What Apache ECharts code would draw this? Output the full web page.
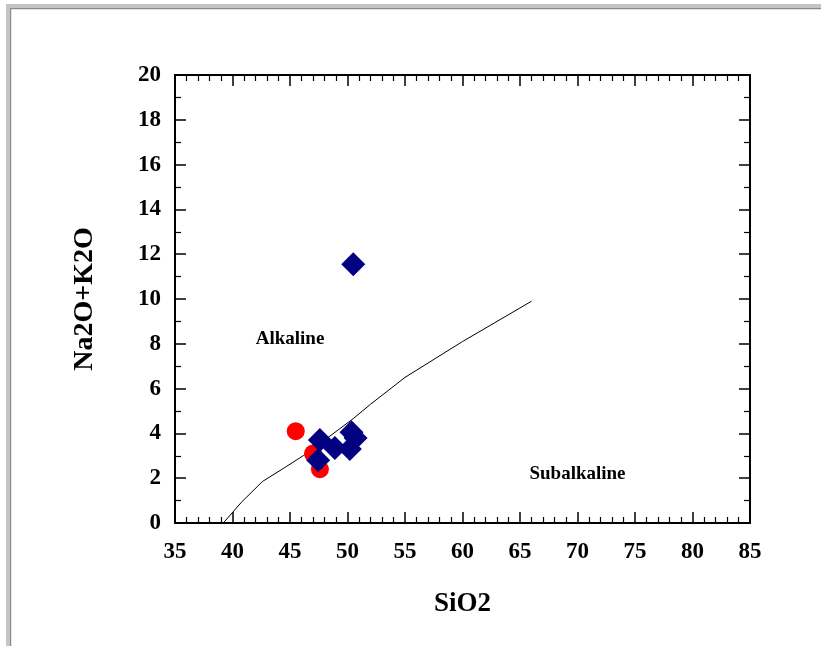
<!DOCTYPE html>
<html>
<head>
<meta charset="utf-8">
<script src="https://cdn.jsdelivr.net/npm/echarts@6/dist/echarts.min.js"></script>
<style>
html,body{margin:0;padding:0;background:#fff;}
#chart{width:821px;height:646px;}
</style>
</head>
<body>
<div id="chart"></div>
<script>
// Boundary curve (alkaline / subalkaline divider)
const boundarySiO2 = [39.2, 40.8, 42.6, 44.4, 46.2, 48.0, 50.5, 52.0, 55.0, 60.0, 66.0];
const boundaryAlk  = [0.0, 0.94, 1.85, 2.43, 3.02, 3.7, 4.66, 5.3, 6.5, 8.1, 9.9];

// Red circles
const redSiO2 = [45.5, 47.0, 47.6];
const redAlk  = [4.1, 3.1, 2.4];

// Blue diamonds
const blueSiO2 = [50.5, 47.6, 47.45, 48.9, 50.35, 50.7, 50.2];
const blueAlk  = [11.55, 3.7, 2.8, 3.35, 4.05, 3.8, 3.3];

// Field labels
const fieldNames = ['Alkaline', 'Subalkaline'];
const fieldSiO2  = [45.0, 70.0];
const fieldAlk   = [8.2, 2.2];

// Axis ranges / tick values
const xRange = [35, 85], xStep = 5;
const yRange = [0, 20], yStep = 2;
const xTitle = 'SiO2';
const yTitle = 'Na2O+K2O';

const FONT = '"Liberation Serif","Times New Roman",serif';
const zip = (a, b) => a.map((v, i) => [v, b[i]]);

function axisBase(min, max, step, minorSplit, showLabel, labelMargin) {
  return {
    type: 'value', min: min, max: max, interval: step,
    axisLine: { show: true, onZero: false, lineStyle: { color: '#000', width: 2 } },
    axisTick: { show: true, inside: true, length: 11, lineStyle: { color: '#000', width: 1.5 } },
    minorTick: { show: true, splitNumber: minorSplit, length: 6, lineStyle: { color: '#000', width: 1.2 } },
    splitLine: { show: false },
    minorSplitLine: { show: false },
    axisLabel: { show: showLabel, color: '#000', fontFamily: FONT, fontWeight: 'bold', fontSize: 23, margin: labelMargin }
  };
}

const chart = echarts.init(document.getElementById('chart'), null, { renderer: 'canvas' });

const option = {
  backgroundColor: '#fff',
  animation: false,
  grid: { left: 175, right: 71, top: 75, bottom: 123, containLabel: false },
  xAxis: [
    Object.assign(axisBase(xRange[0], xRange[1], xStep, 5, true, 18), {
      position: 'bottom', name: xTitle, nameLocation: 'middle', nameGap: 68,
      nameTextStyle: { color: '#000', fontFamily: FONT, fontWeight: 'bold', fontSize: 27 }
    }),
    Object.assign(axisBase(xRange[0], xRange[1], xStep, 5, false, 8), { position: 'top' })
  ],
  yAxis: [
    Object.assign(axisBase(yRange[0], yRange[1], yStep, 2, true, 14), {
      position: 'left', name: yTitle, nameLocation: 'middle', nameGap: 76, nameRotate: 90,
      nameTextStyle: { color: '#000', fontFamily: FONT, fontWeight: 'bold', fontSize: 28 }
    }),
    Object.assign(axisBase(yRange[0], yRange[1], yStep, 2, false, 8), { position: 'right' })
  ],
  graphic: [
    { type: 'rect', shape: { x: 6, y: 4, width: 5, height: 660 }, style: { fill: '#c4c4c4' }, silent: true },
    { type: 'rect', shape: { x: 6, y: 4, width: 830, height: 5 }, style: { fill: '#c4c4c4' }, silent: true },
    { type: 'rect', shape: { x: 10, y: 8, width: 1.2, height: 660 }, style: { fill: '#8a8a8a' }, silent: true },
    { type: 'rect', shape: { x: 10, y: 8, width: 830, height: 1.2 }, style: { fill: '#8a8a8a' }, silent: true }
  ],
  series: [
    {
      type: 'line', name: 'boundary', data: zip(boundarySiO2, boundaryAlk),
      showSymbol: false, symbol: 'none', smooth: false,
      lineStyle: { color: '#000', width: 1 }, z: 2
    },
    {
      type: 'scatter', name: 'fields', data: zip(fieldSiO2, fieldAlk),
      symbolSize: 0, z: 1, itemStyle: { opacity: 1 },
      label: {
        show: true, position: 'inside',
        formatter: p => fieldNames[p.dataIndex],
        color: '#000', opacity: 1, fontFamily: FONT, fontWeight: 'bold', fontSize: 19
      }
    },
    {
      type: 'scatter', name: 'red', data: zip(redSiO2, redAlk),
      symbol: 'circle', symbolSize: 18,
      itemStyle: { color: '#ff0000', opacity: 1 }, z: 3
    },
    {
      type: 'scatter', name: 'blue', data: zip(blueSiO2, blueAlk),
      symbol: 'diamond', symbolSize: 24,
      itemStyle: { color: '#000080', opacity: 1 }, z: 4
    }
  ]
};
chart.setOption(option);
</script>
</body>
</html>
